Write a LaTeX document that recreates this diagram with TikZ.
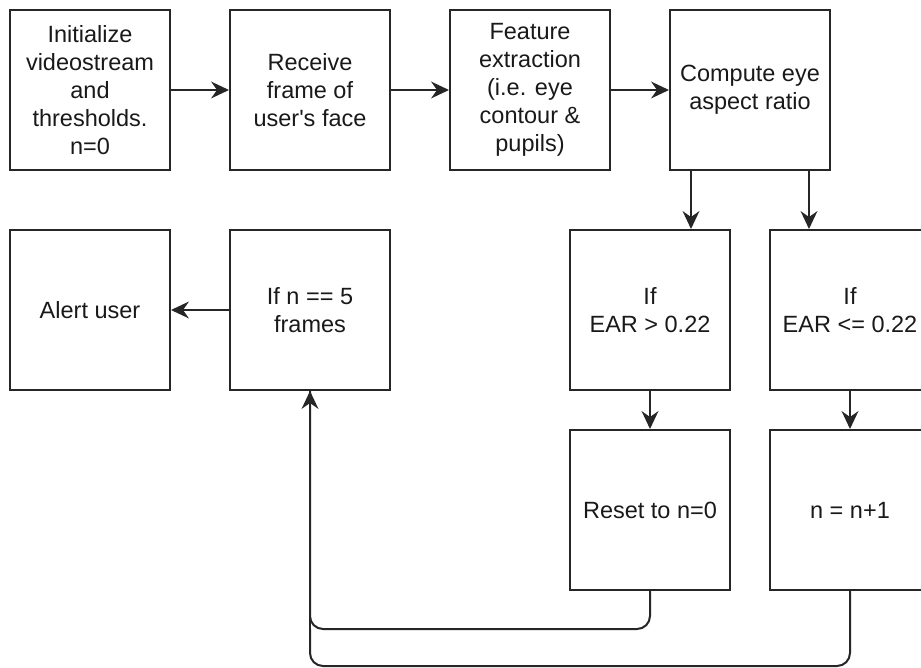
\documentclass[tikz,border=0pt]{standalone}
\usepackage{fontspec}
\setmainfont{Liberation Sans}
\usetikzlibrary{arrows.meta}
\begin{document}
\begin{tikzpicture}[x=1pt,y=-1pt,
  box/.style={draw=black!85, line width=2pt, minimum width=160pt, minimum height=160pt,
    inner sep=0pt, align=center, font=\fontsize{23.5}{28}\selectfont, text=black!90},
  conn/.style={draw=black!85, line width=2pt, -{Stealth[length=18pt,width=17pt,inset=6pt,line width=0pt]}},
  link/.style={draw=black!85, line width=2pt, rounded corners=13pt}]
\useasboundingbox (0,0) rectangle (921,668);
\clip (0,0) rectangle (921,668);
\node[box] (init) at (90,90) {Initialize\\videostream\\and\\thresholds.\\n=0};
\node[box] (recv) at (310,90) {Receive\\frame of\\user\textquotesingle s face};
\node[box] (feat) at (530,90) {Feature\\extraction\\(i.e. eye\\contour \&\\pupils)};
\node[box] (ear) at (750,90) {Compute eye\\aspect ratio};
\node[box] (alert) at (90,310) {Alert user};
\node[box] (five) at (310,310) {If n == 5\\frames};
\node[box] (gt) at (650,310) {If\\EAR > 0.22};
\node[box] (le) at (850,310) {If\\EAR <= 0.22};
\node[box] (reset) at (650,510) {Reset to n=0};
\node[box] (inc) at (850,510) {n = n+1};
\draw[conn] (init) -- (recv);
\draw[conn] (recv) -- (feat);
\draw[conn] (feat) -- (ear);
\draw[conn] (ear.south -| gt.north east) ++(-40,0) coordinate (e1) -- (e1 |- gt.north);
\draw[conn] (ear.south -| le.north west) ++(40,0) coordinate (e2) -- (e2 |- le.north);
\draw[conn] (gt) -- (reset);
\draw[conn] (le) -- (inc);
\draw[conn] (five) -- (alert);
\coordinate (r1) at (650,629);
\coordinate (r2) at (850,666);
\draw[link] (reset.south) -- (r1) -- (r1 -| five.south) -- (five.south);
\draw[link] (inc.south) -- (r2) -- (r2 -| five.south) -- (r1 -| five.south);
\draw[conn] (r1 -| five.south) -- (five.south);
\end{tikzpicture}
\end{document}
